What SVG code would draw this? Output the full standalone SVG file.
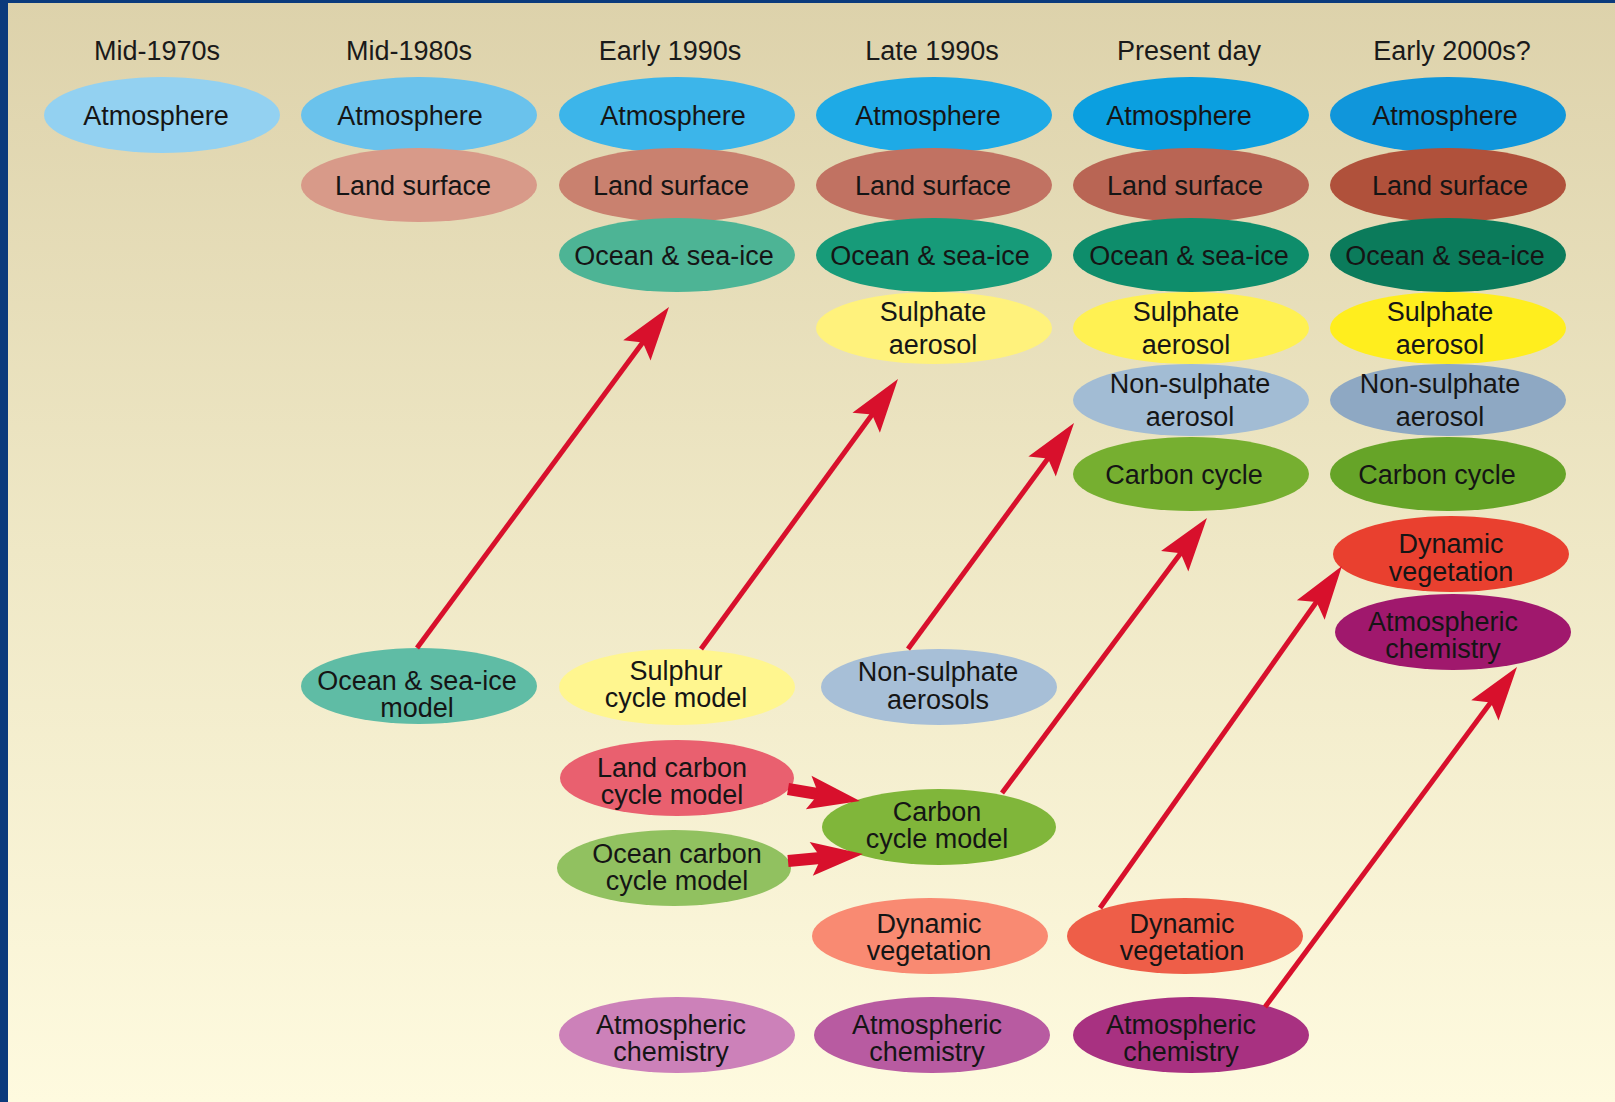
<svg xmlns="http://www.w3.org/2000/svg" width="1615" height="1102" viewBox="0 0 1615 1102">
<defs>
<linearGradient id="bg" x1="0" y1="0" x2="0" y2="1">
<stop offset="0" stop-color="#ddd2ab"/>
<stop offset="0.5" stop-color="#efe8c6"/>
<stop offset="1" stop-color="#fefadf"/>
</linearGradient>
<marker id="ah" markerUnits="userSpaceOnUse" markerWidth="60" markerHeight="40" refX="36" refY="20" orient="auto" overflow="visible">
<path d="M56,20 L2,3 L12,20 L2,37 Z" fill="#d8102c"/>
</marker>
<marker id="ahb" markerUnits="userSpaceOnUse" markerWidth="60" markerHeight="40" refX="30" refY="20" orient="auto" overflow="visible">
<path d="M54,20 L2,3 L12,20 L2,37 Z" fill="#d8102c"/>
</marker>
</defs>
<style>
text{font-family:"Liberation Sans",Arial,Helvetica,sans-serif;font-size:27px;fill:#151515;text-anchor:middle}
.t{font-size:27px;fill:#1a1a1a}
ellipse{stroke:none}
.line{stroke:#d8102c;stroke-width:5;fill:none;marker-end:url(#ah)}
.thick{stroke:#d8102c;stroke-width:12;fill:none;marker-end:url(#ahb)}
</style>
<rect x="0" y="0" width="1615" height="1102" fill="url(#bg)"/>
<rect x="0" y="0" width="8" height="1102" fill="#0b3a7c"/>
<rect x="0" y="0" width="1615" height="3" fill="#0b3a7c"/>

<g id="titles">
<text class="t" x="157" y="60">Mid-1970s</text>
<text class="t" x="409" y="60">Mid-1980s</text>
<text class="t" x="670" y="60">Early 1990s</text>
<text class="t" x="932" y="60">Late 1990s</text>
<text class="t" x="1189" y="60">Present day</text>
<text class="t" x="1452" y="60">Early 2000s?</text>
</g>

<g id="nodes">
<g id="c1-atm"><ellipse cx="162" cy="115" rx="118" ry="38" fill="#93d1f1"/><text x="156" y="125">Atmosphere</text></g>

<g id="c2-atm"><ellipse cx="419" cy="115" rx="118" ry="38" fill="#6ac2ec"/><text x="410" y="125">Atmosphere</text></g>
<g id="c2-land"><ellipse cx="419" cy="185" rx="118" ry="37" fill="#d89a89"/><text x="413" y="195">Land surface</text></g>

<g id="c3-atm"><ellipse cx="677" cy="115" rx="118" ry="38" fill="#3cb5ea"/><text x="673" y="125">Atmosphere</text></g>
<g id="c3-land"><ellipse cx="677" cy="185" rx="118" ry="37" fill="#c9816f"/><text x="671" y="195">Land surface</text></g>
<g id="c3-ocean"><ellipse cx="677" cy="255" rx="118" ry="37" fill="#4db495"/><text x="674" y="265">Ocean &amp; sea-ice</text></g>

<g id="c4-atm"><ellipse cx="934" cy="115" rx="118" ry="38" fill="#1eaae6"/><text x="928" y="125">Atmosphere</text></g>
<g id="c4-land"><ellipse cx="934" cy="185" rx="118" ry="37" fill="#c17262"/><text x="933" y="195">Land surface</text></g>
<g id="c4-ocean"><ellipse cx="934" cy="255" rx="118" ry="37" fill="#179b79"/><text x="930" y="265">Ocean &amp; sea-ice</text></g>
<g id="c4-sulph"><ellipse cx="934" cy="328" rx="118" ry="36" fill="#fff27c"/><text x="933" y="321">Sulphate</text><text x="933" y="354">aerosol</text></g>

<g id="c5-atm"><ellipse cx="1191" cy="115" rx="118" ry="38" fill="#0b9fe0"/><text x="1179" y="125">Atmosphere</text></g>
<g id="c5-land"><ellipse cx="1191" cy="185" rx="118" ry="37" fill="#b96554"/><text x="1185" y="195">Land surface</text></g>
<g id="c5-ocean"><ellipse cx="1191" cy="255" rx="118" ry="37" fill="#0e8d6b"/><text x="1189" y="265">Ocean &amp; sea-ice</text></g>
<g id="c5-sulph"><ellipse cx="1191" cy="328" rx="118" ry="36" fill="#fff152"/><text x="1186" y="321">Sulphate</text><text x="1186" y="354">aerosol</text></g>
<g id="c5-nonsulph"><ellipse cx="1191" cy="400" rx="118" ry="36" fill="#a2bcd4"/><text x="1190" y="393">Non-sulphate</text><text x="1190" y="426">aerosol</text></g>
<g id="c5-carbon"><ellipse cx="1191" cy="474" rx="118" ry="37" fill="#76af30"/><text x="1184" y="484">Carbon cycle</text></g>

<g id="c6-atm"><ellipse cx="1448" cy="115" rx="118" ry="38" fill="#1096db"/><text x="1445" y="125">Atmosphere</text></g>
<g id="c6-land"><ellipse cx="1448" cy="185" rx="118" ry="37" fill="#b0513b"/><text x="1450" y="195">Land surface</text></g>
<g id="c6-ocean"><ellipse cx="1448" cy="255" rx="118" ry="37" fill="#0b7b5b"/><text x="1445" y="265">Ocean &amp; sea-ice</text></g>
<g id="c6-sulph"><ellipse cx="1448" cy="328" rx="118" ry="36" fill="#ffee1e"/><text x="1440" y="321">Sulphate</text><text x="1440" y="354">aerosol</text></g>
<g id="c6-nonsulph"><ellipse cx="1448" cy="400" rx="118" ry="36" fill="#8ea8c3"/><text x="1440" y="393">Non-sulphate</text><text x="1440" y="426">aerosol</text></g>
<g id="c6-carbon"><ellipse cx="1448" cy="474" rx="118" ry="37" fill="#66a428"/><text x="1437" y="484">Carbon cycle</text></g>
<g id="c6-dynveg"><ellipse cx="1451" cy="554" rx="118" ry="38" fill="#e9402f"/><text x="1451" y="553">Dynamic</text><text x="1451" y="581">vegetation</text></g>
<g id="c6-atmchem"><ellipse cx="1453" cy="632" rx="118" ry="38" fill="#a0186d"/><text x="1443" y="631">Atmospheric</text><text x="1443" y="658">chemistry</text></g>

<g id="m-ocean"><ellipse cx="419" cy="686" rx="118" ry="38" fill="#5fbca5"/><text x="417" y="690">Ocean &amp; sea-ice</text><text x="417" y="717">model</text></g>
<g id="m-sulphur"><ellipse cx="677" cy="687" rx="118" ry="38" fill="#fff68f"/><text x="676" y="680">Sulphur</text><text x="676" y="707">cycle model</text></g>
<g id="m-nonsulph"><ellipse cx="939" cy="687" rx="118" ry="38" fill="#a7bfd7"/><text x="938" y="681">Non-sulphate</text><text x="938" y="709">aerosols</text></g>
<g id="m-landcarbon"><ellipse cx="677" cy="778" rx="117" ry="38" fill="#e9606f"/><text x="672" y="777">Land carbon</text><text x="672" y="804">cycle model</text></g>
<g id="m-oceancarbon"><ellipse cx="674" cy="868" rx="117" ry="38" fill="#91c160"/><text x="677" y="863">Ocean carbon</text><text x="677" y="890">cycle model</text></g>
<g id="m-carbon"><ellipse cx="939" cy="827" rx="117" ry="38" fill="#80b63a"/><text x="937" y="821">Carbon</text><text x="937" y="848">cycle model</text></g>
<g id="m-dynveg4"><ellipse cx="930" cy="936" rx="118" ry="38" fill="#f98a72"/><text x="929" y="933">Dynamic</text><text x="929" y="960">vegetation</text></g>
<g id="m-dynveg5"><ellipse cx="1185" cy="936" rx="118" ry="38" fill="#ee5e48"/><text x="1182" y="933">Dynamic</text><text x="1182" y="960">vegetation</text></g>
<g id="m-atmchem3"><ellipse cx="677" cy="1035" rx="118" ry="38" fill="#cc81b9"/><text x="671" y="1034">Atmospheric</text><text x="671" y="1061">chemistry</text></g>
<g id="m-atmchem4"><ellipse cx="932" cy="1035" rx="118" ry="38" fill="#b85ba1"/><text x="927" y="1034">Atmospheric</text><text x="927" y="1061">chemistry</text></g>
<g id="m-atmchem5"><ellipse cx="1191" cy="1035" rx="118" ry="38" fill="#a83181"/><text x="1181" y="1034">Atmospheric</text><text x="1181" y="1061">chemistry</text></g>
</g>

<g id="connectors">
<line class="line" x1="417" y1="648" x2="657.1" y2="323.1"/>
<line class="line" x1="701" y1="649" x2="886.2" y2="395.2"/>
<line class="line" x1="908" y1="649" x2="1062.2" y2="439.1"/>
<line class="line" x1="1002" y1="793" x2="1195.0" y2="534.0"/>
<line class="line" x1="1100" y1="908" x2="1330.4" y2="582.3"/>
<line class="line" x1="1265" y1="1007" x2="1505.1" y2="683.1"/>
<line class="thick" x1="788" y1="789" x2="836.3" y2="797.1"/>
<line class="thick" x1="788" y1="861" x2="839.1" y2="856.3"/>
</g>
</svg>
